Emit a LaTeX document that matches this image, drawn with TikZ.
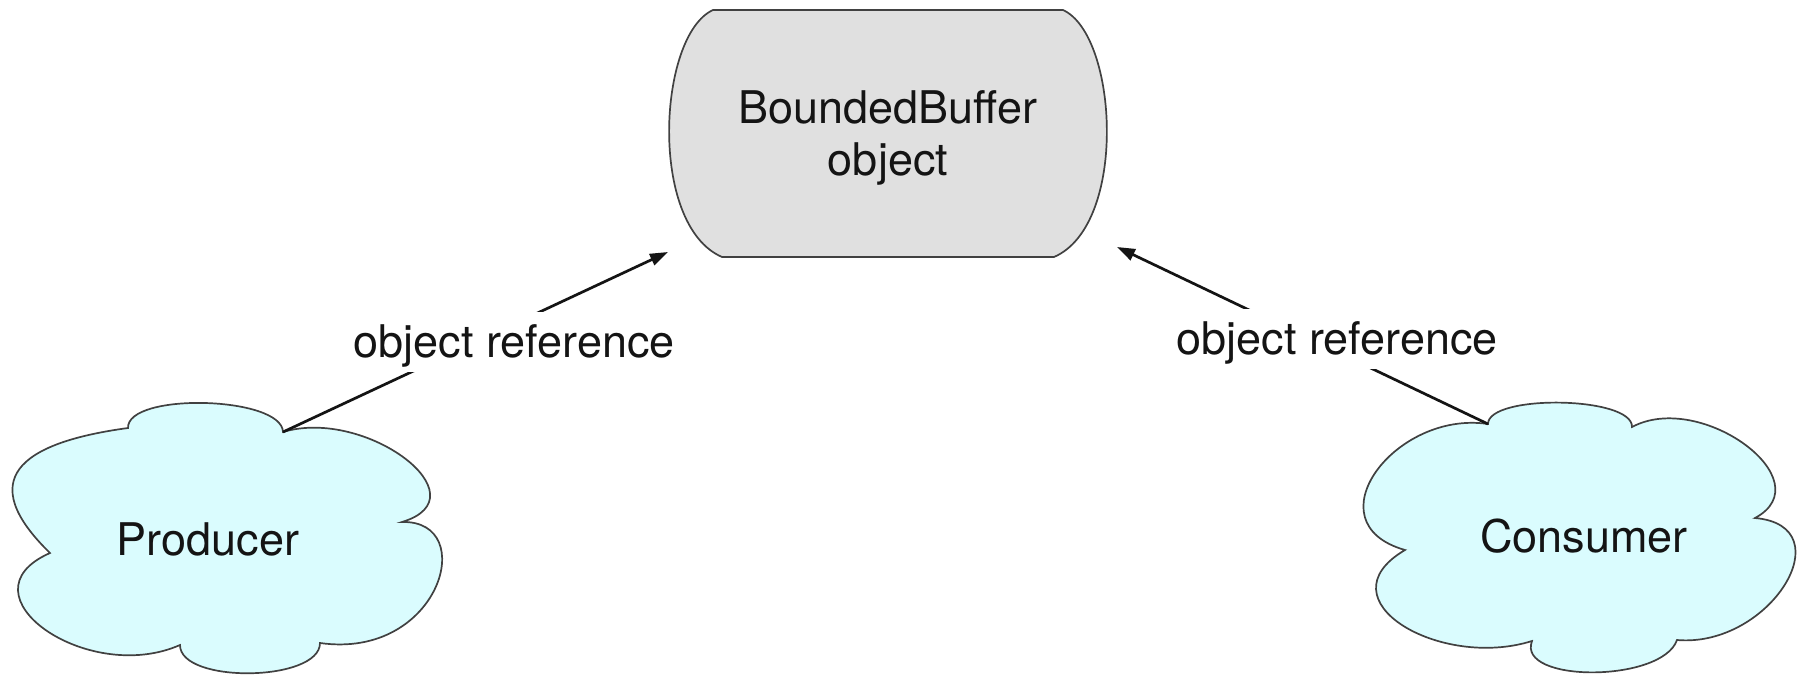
\documentclass[tikz,border=0pt]{standalone}
\usepackage{fontspec}
\setmainfont{TeX Gyre Heros}
\usetikzlibrary{arrows.meta}
\definecolor{bufferfill}{RGB}{224,224,224}
\definecolor{cloudfill}{RGB}{218,252,254}
\definecolor{edgegray}{RGB}{65,65,65}
\definecolor{inkblack}{RGB}{20,20,20}

\begin{document}
\begin{tikzpicture}[x=0.5pt,y=-0.5pt,
  outline/.style={draw=edgegray, line width=0.85pt},
  txt/.style={font=\fontsize{22.5}{26}\selectfont, text=inkblack, inner sep=0pt},
  reflabel/.style={txt, fill=white, text height=20pt, text depth=5pt,
                   inner xsep=3pt, inner ysep=2.5pt},
  link/.style={draw=inkblack, line width=1.35pt,
               -{Triangle[length=9pt,width=6pt]}}]

  % page frame
  \useasboundingbox (0,0) rectangle (1800,675);
  \fill[white] (0,0) rectangle (1800,675);

  % shared buffer: flat top and bottom, bulging sides
  \path[outline, fill=bufferfill]
    (713,10) -- (1063,10)
    .. controls (1118,35) and (1128,225) .. (1054,257)
    -- (722,257)
    .. controls (648,225) and (658,35) .. cycle;
  % base anchor of a two-line node sits on the last baseline
  \node[txt, anchor=base, align=center] (bb) at (888,175) {BoundedBuffer\\object};

  % producer cloud
  \path[outline, fill=cloudfill]
    (128,428) .. controls (127,392) and (282,396) .. (283,432)
    .. controls (366,407) and (485,497) .. (402,522)
    .. controls (480,520) and (440,660) .. (320,643)
    .. controls (320,682) and (180,684) .. (180,645)
    .. controls (87,686) and (-43,594) .. (50,553)
    .. controls (-25,480) and (18,443) .. cycle;
  \node[txt, anchor=base] (producer) at (208,555) {Producer};

  % consumer cloud
  \path[outline, fill=cloudfill]
    (1488,424) .. controls (1488,394) and (1633,396) .. (1632,427)
    .. controls (1701,390) and (1824,481) .. (1755,518)
    .. controls (1845,526) and (1770,648) .. (1677,640)
    .. controls (1662,683) and (1516,683) .. (1532,641)
    .. controls (1440,670) and (1320,600) .. (1405,550)
    .. controls (1310,523) and (1395,410) .. cycle;
  \node[txt, anchor=base] (consumer) at (1584,552) {Consumer};

  % connector end points
  \coordinate (prodTop) at (283,432);
  \coordinate (consTop) at (1488,424);
  \coordinate (bbLeft) at (668,252);
  \coordinate (bbRight) at (1117,247);

  % references to the buffer
  \draw[link] (prodTop) -- (bbLeft);
  \draw[link] (consTop) -- (bbRight);
  \node[reflabel, anchor=base] (refL) at (514,357) {object reference};
  \node[reflabel, anchor=base] (refR) at (1337,354) {object reference};
\end{tikzpicture}
\end{document}
